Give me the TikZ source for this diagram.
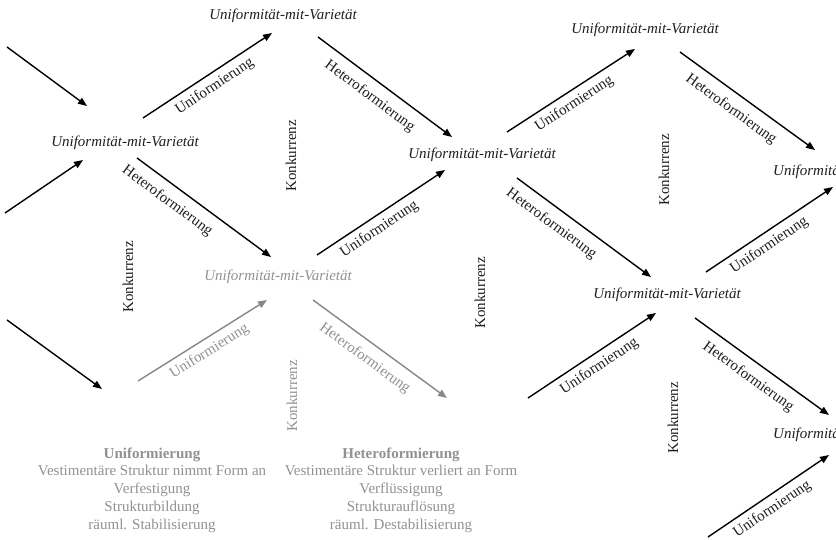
\documentclass[tikz,border=0pt]{standalone}
\usepackage{fontspec}
\setmainfont{Liberation Serif}
\usetikzlibrary{arrows.meta}
\definecolor{ink}{RGB}{30,30,30}
\definecolor{pale}{RGB}{145,145,145}
\definecolor{paleline}{RGB}{135,135,135}
\begin{document}
\begin{tikzpicture}[x=1pt,y=-1pt,
  txt/.style={font=\fontsize{15}{17.7}\selectfont, inner sep=0pt, text=ink},
  state/.style={txt, font=\fontsize{15}{17.7}\selectfont\itshape},
  arr/.style={line width=1.4pt, draw=black, -{Triangle[length=9pt,width=7pt]}},
  parr/.style={arr, draw=paleline},
  uni/.style={txt, sloped, below=5.5pt},
  het/.style={txt, sloped, below=9pt},
  konk/.style={txt, rotate=90},
  expl/.style={txt, align=center, text=pale}]
\useasboundingbox (0,0) rectangle (836,540);
\clip (0,0) rectangle (836,540);

% states
\node[state] (nA) at (125,143) {Uniformität-mit-Varietät};
\node[state] (nB) at (283,16) {Uniformität-mit-Varietät};
\node[state] (nC) at (482,155) {Uniformität-mit-Varietät};
\node[state, text=pale] (nD) at (278,277) {Uniformität-mit-Varietät};
\node[state] (nE) at (645,30) {Uniformität-mit-Varietät};
\node[state] (nF) at (667,295) {Uniformität-mit-Varietät};
\node[state, anchor=west] (nG) at (773,172) {Uniformität-mit-Varietät};
\node[state, anchor=west] (nH) at (773,435) {Uniformität-mit-Varietät};

% Konkurrenz
\node[konk] (k1) at (291,156) {Konkurrenz};
\node[konk] (k2) at (128,277) {Konkurrenz};
\node[konk] (k3) at (480,293) {Konkurrenz};
\node[konk] (k4) at (664,170) {Konkurrenz};
\node[konk] (k5) at (673,418) {Konkurrenz};
\node[konk, text=pale] (k6) at (292,396) {Konkurrenz};

% free ends
\coordinate (f1) at (7,47);
\coordinate (f2) at (5,213);
\coordinate (f3) at (7,320);
\coordinate (f4) at (102,389);
\coordinate (f5) at (528,398);
\coordinate (f6) at (708,537);
\coordinate (f7) at (138,381);
\coordinate (f8) at (447,398);

% arrows
\draw[arr] (f1) -- ([shift={(-38,-37)}]nA.center);
\draw[arr] (f2) -- ([shift={(-42,17)}]nA.center);
\draw[arr] (f3) -- (f4);
\draw[arr] ([shift={(18,-25)}]nA.center) -- ([shift={(-11,17)}]nB.center)
  node[uni, pos=.5] {Uniformierung};
\draw[arr] ([shift={(12,15)}]nA.center) -- ([shift={(-7,-20)}]nD.center)
  node[het, pos=.3] {Heteroformierung};
\draw[arr] ([shift={(35,21)}]nB.center) -- ([shift={(-30,-18)}]nC.center)
  node[het, pos=.46] {Heteroformierung};
\draw[arr] ([shift={(39,-22)}]nD.center) -- ([shift={(-37,15)}]nC.center)
  node[uni, pos=.43] {Uniformierung};
\draw[arr] ([shift={(25,-23)}]nC.center) -- ([shift={(-10,19)}]nE.center)
  node[uni, pos=.47] {Uniformierung};
\draw[arr] ([shift={(35,23)}]nC.center) -- ([shift={(-16,-18)}]nF.center)
  node[het, pos=.33] {Heteroformierung};
\draw[arr] ([shift={(35,22)}]nE.center) -- ([shift={(42,-22)}]nG.west)
  node[het, pos=.45] {Heteroformierung};
\draw[arr] ([shift={(39,-23)}]nF.center) -- ([shift={(60,15)}]nG.west)
  node[uni, pos=.44] {Uniformierung};
\draw[arr] ([shift={(28,23)}]nF.center) -- ([shift={(56,-20)}]nH.west)
  node[het, pos=.47] {Heteroformierung};
\draw[arr] (f6) -- ([shift={(56,20)}]nH.west)
  node[uni, pos=.47] {Uniformierung};
\draw[arr] (f5) -- ([shift={(-11,18)}]nF.center)
  node[uni, pos=.5] {Uniformierung};
\draw[parr] (f7) -- ([shift={(-11,23)}]nD.center)
  node[uni, pos=.5, text=pale] {Uniformierung};
\draw[parr] ([shift={(35,23)}]nD.center) -- (f8)
  node[het, pos=.46, text=pale] {Heteroformierung};

% explanations
\node[expl] (eU) at (152,490) {\textbf{Uniformierung}\\Vestimentäre Struktur nimmt Form an\\Verfestigung\\Strukturbildung\\räuml. Stabilisierung};
\node[expl] (eH) at (401,490) {\textbf{Heteroformierung}\\Vestimentäre Struktur verliert an Form\\Verflüssigung\\Strukturauflösung\\räuml. Destabilisierung};
\end{tikzpicture}
\end{document}
